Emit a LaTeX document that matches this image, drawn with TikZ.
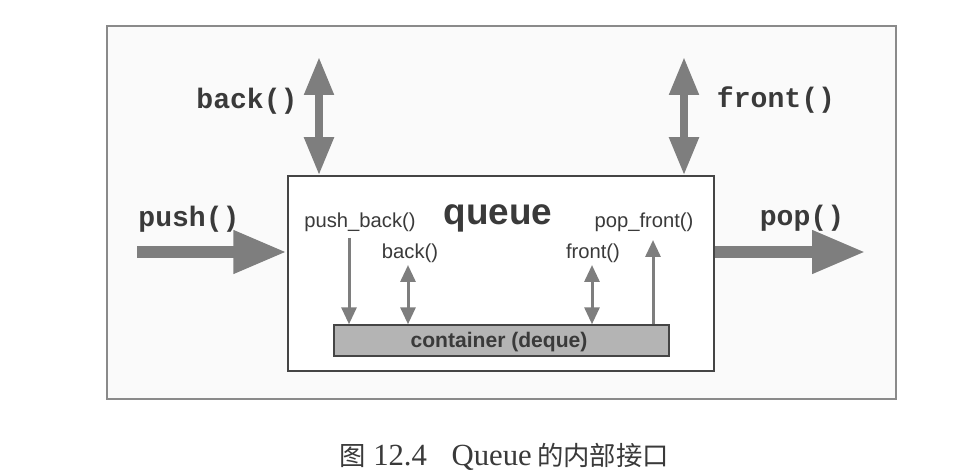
\documentclass[tikz,border=0pt]{standalone}
\usepackage{fontspec}
\setmainfont{Liberation Serif}
\setsansfont{Liberation Sans}
\setmonofont{Liberation Mono}
\newfontfamily\cjk{Noto Sans CJK SC}
\usetikzlibrary{arrows.meta}

\definecolor{arrowgray}{HTML}{7E7E7E}
\definecolor{framegray}{HTML}{8A8A8A}
\definecolor{boxgray}{HTML}{454545}
\definecolor{fillgray}{HTML}{B4B4B4}
\definecolor{textgray}{HTML}{3A3A3A}

\begin{document}
\begin{tikzpicture}[x=0.02cm,y=-0.02cm,
  every node/.style={inner sep=0pt,text=textgray},
  monolabel/.style={anchor=base,font=\fontsize{16}{16}\selectfont\ttfamily\bfseries},
  innerlabel/.style={anchor=base,font=\fontsize{11.5}{11.5}\selectfont\sffamily},
  bigarrow/.style={draw=arrowgray,line width=0.26cm,-{Triangle[length=1.08cm,width=0.8cm]}},
  dblarrow/.style={draw=arrowgray,line width=0.16cm,{Triangle[length=0.76cm,width=0.56cm]}-{Triangle[length=0.76cm,width=0.56cm]}},
  thinarrow/.style={draw=arrowgray,line width=0.06cm,-{Triangle[length=0.34cm,width=0.3cm]}},
  thindbl/.style={draw=arrowgray,line width=0.06cm,{Triangle[length=0.34cm,width=0.3cm]}-{Triangle[length=0.34cm,width=0.3cm]}}]

    \useasboundingbox[fill=white] (0,0) rectangle (977,476);

    % outer frame
    \node (frame) at (501.5,212.5) [draw=framegray,line width=0.8pt,fill=black!2,
      minimum width=15.78cm,minimum height=7.46cm] {};

    % queue box and its container
    \node (queue) at (501,273.5) [draw=boxgray,line width=0.9pt,fill=white,
      minimum width=8.52cm,minimum height=3.9cm] {};
    \node (container) at (501.5,340.5) [draw=boxgray,line width=0.8pt,fill=fillgray,
      minimum width=6.7cm,minimum height=0.62cm] {};

    \node (title) at (498,225) [anchor=base,font=\fontsize{21}{21}\selectfont\sffamily\bfseries] {queue};
    \node (cont) at (499,347) [anchor=base,font=\fontsize{12}{12}\selectfont\sffamily\bfseries] {container (deque)};

    % inner interface
    \node (pushback) at (360,228) [innerlabel] {push\_back()};
    \node (popfront) at (644,228) [innerlabel] {pop\_front()};
    \node (iback) at (410,258) [innerlabel] {back()};
    \node (ifront) at (593,258) [innerlabel] {front()};

    \coordinate (pb) at (349,238);
    \coordinate (ib) at (408,265);
    \coordinate (ifr) at (592,265);
    \coordinate (pf) at (653,240);
      \draw[thinarrow] (pb) -- (pb |- container.north);
      \draw[thindbl] (ib) -- (ib |- container.north);
      \draw[thindbl] (ifr) -- (ifr |- container.north);
      \draw[thinarrow] (pf |- container.north) -- (pf);

    % outer interface
    \node (push) at (189,227) [monolabel] {push()};
    \node (pop) at (802,226) [monolabel] {pop()};
    \node (back) at (247,109) [monolabel] {back()};
    \node (front) at (776,108) [monolabel] {front()};

    \coordinate (pushin) at (137,252);
    \coordinate (popout) at (866,252);
    \coordinate (backtop) at (319,57);
    \coordinate (fronttop) at (684,57);
      \draw[bigarrow] (pushin) -- (pushin -| queue.west);
      \draw[bigarrow] (popout -| queue.east) -- (popout);
      \draw[dblarrow] (backtop) -- (backtop |- queue.north);
      \draw[dblarrow] (fronttop) -- (fronttop |- queue.north);

    % caption
    \node (caption) at (504,465) [anchor=base,font=\fontsize{17.5}{17.5}\selectfont]
      {{\fontsize{15}{15}\selectfont\cjk 图}\ 12.4\hspace{0.8em}Queue\,{\fontsize{15}{15}\selectfont\cjk 的内部接口}};

\end{tikzpicture}
\end{document}
